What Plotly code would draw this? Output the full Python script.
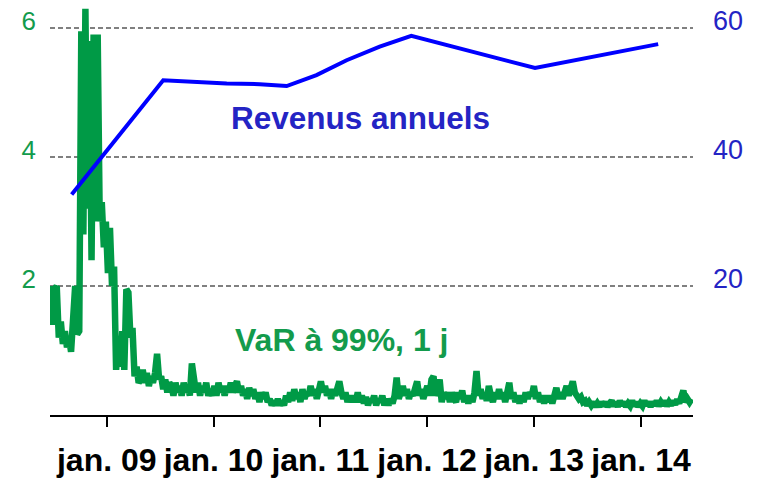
import pandas as pd
import plotly.graph_objects as go

# VaR 99%, 1 day (weekly readings, starting 2008-06-23)
var_start = "2008-06-23"
var_2008 = [2.0, 1.4, 1.95, 2.0, 1.2, 1.45, 1.1, 1.3, 1.05, 1.2, 0.98, 1.7, 2.0, 1.25,
            1.3, 5.95, 2.8, 6.3, 3.2, 5.8, 2.4, 5.9, 3.0, 5.9, 3.0, 3.3, 2.6, 3.0]
var_2009 = [2.2, 2.9, 2.0, 2.3, 0.7, 1.1, 0.75, 1.3, 0.7, 1.95,
            1.9, 1.2, 1.35, 0.6, 0.75, 0.5, 0.55, 0.7, 0.5, 0.65,
            0.45, 0.6, 0.5, 0.65, 0.95, 0.55, 0.6, 0.4, 0.55, 0.35,
            0.5, 0.45, 0.3, 0.5, 0.35, 0.45, 0.3, 0.5, 0.35, 0.45,
            0.3, 0.8, 0.45, 0.35, 0.5, 0.3, 0.45, 0.35, 0.5, 0.3,
            0.4, 0.3]
var_2010 = [0.45, 0.3, 0.5, 0.35, 0.45, 0.3, 0.45, 0.35, 0.5, 0.35,
            0.45, 0.52, 0.35, 0.45, 0.3, 0.4, 0.25, 0.42, 0.3, 0.4,
            0.25, 0.35, 0.2, 0.35, 0.25, 0.35, 0.2, 0.25, 0.15, 0.22,
            0.15, 0.25, 0.15, 0.22, 0.15, 0.3, 0.2, 0.35, 0.22, 0.4,
            0.25, 0.35, 0.2, 0.4, 0.25, 0.35, 0.3, 0.45, 0.3, 0.4,
            0.25, 0.45]
var_2011 = [0.52, 0.35, 0.45, 0.3, 0.4, 0.25, 0.4, 0.3, 0.45, 0.52,
            0.35, 0.25, 0.35, 0.2, 0.3, 0.2, 0.3, 0.2, 0.35, 0.2,
            0.3, 0.18, 0.28, 0.15, 0.25, 0.2, 0.3, 0.15, 0.25, 0.2,
            0.3, 0.15, 0.25, 0.15, 0.25, 0.18, 0.3, 0.58, 0.25, 0.35,
            0.45, 0.3, 0.4, 0.25, 0.35, 0.3, 0.45, 0.52, 0.3, 0.4,
            0.25, 0.35]
var_2012 = [0.45, 0.3, 0.55, 0.6, 0.3, 0.4, 0.55, 0.2, 0.35, 0.25,
            0.35, 0.2, 0.35, 0.25, 0.2, 0.35, 0.25, 0.38, 0.2, 0.3,
            0.18, 0.3, 0.2, 0.35, 0.68, 0.3, 0.4, 0.25, 0.35, 0.22,
            0.45, 0.3, 0.2, 0.35, 0.25, 0.4, 0.25, 0.35, 0.2, 0.35,
            0.5, 0.25, 0.35, 0.2, 0.3, 0.18, 0.3, 0.2, 0.35, 0.25,
            0.35, 0.3]
var_2013 = [0.45, 0.25, 0.35, 0.2, 0.3, 0.18, 0.3, 0.2, 0.3, 0.18,
            0.35, 0.42, 0.25, 0.35, 0.25, 0.4, 0.45, 0.3, 0.45, 0.52,
            0.35, 0.3, 0.25, 0.28, 0.2, 0.22, 0.15, 0.2, 0.15, 0.2,
            0.13, 0.18, 0.13, 0.2, 0.14, 0.2, 0.13, 0.18, 0.22, 0.14,
            0.2, 0.13, 0.22, 0.15, 0.2, 0.13, 0.18, 0.14, 0.22, 0.14,
            0.2, 0.13]
var_2014 = [0.18, 0.14, 0.22, 0.15, 0.2, 0.13, 0.2, 0.15, 0.22, 0.14,
            0.2, 0.15, 0.22, 0.14, 0.2, 0.15, 0.22, 0.16, 0.24, 0.18,
            0.25, 0.38, 0.2, 0.25, 0.2, 0.25]

# Annual revenues (right axis)
rev_dates = ["2008-09-03", "2009-07-13", "2010-02-15", "2010-06-08", "2010-09-08",
             "2010-12-19", "2011-04-01", "2011-07-23", "2011-11-08", "2013-01-04",
             "2014-03-01"]
rev_values = [34.2, 51.9, 51.4, 51.3, 51.0, 52.7, 55.0, 57.1, 58.8, 53.8, 57.5]

tick_dates = ["2009-01-01", "2010-01-01", "2011-01-01", "2012-01-01", "2013-01-01", "2014-01-01"]
tick_labels = ["jan. 09", "jan. 10", "jan. 11", "jan. 12", "jan. 13", "jan. 14"]
left_ticks = [2, 4, 6]
right_ticks = [20, 40, 60]

var_values = var_2008 + var_2009 + var_2010 + var_2011 + var_2012 + var_2013 + var_2014
var_dates = pd.date_range(var_start, periods=len(var_values), freq="7D")

GREEN = "#009A46"
GREEN_TXT = "#139B4C"
BLUE = "#0000FF"
BLUE_TXT = "#2424C4"
FONT = "Liberation Sans, Arial, sans-serif"

fig = go.Figure()
fig.add_trace(go.Scatter(x=var_dates, y=var_values, mode="lines",
                         line=dict(color=GREEN, width=6.5), yaxis="y",
                         showlegend=False, hoverinfo="skip"))
fig.add_trace(go.Scatter(x=pd.to_datetime(rev_dates), y=rev_values, mode="lines",
                         line=dict(color=BLUE, width=4), yaxis="y2",
                         showlegend=False, hoverinfo="skip"))

fig.add_annotation(x="2010-02-24", y=4.61, xref="x", yref="y", text="<b>Revenus annuels</b>",
                   showarrow=False, xanchor="left", yanchor="middle",
                   font=dict(family=FONT, size=31.5, color=BLUE_TXT))
fig.add_annotation(x="2010-03-08", y=1.17, xref="x", yref="y", text="<b>VaR à 99%, 1 j</b>",
                   showarrow=False, xanchor="left", yanchor="middle",
                   font=dict(family=FONT, size=32, color=GREEN_TXT))

fig.update_layout(
    width=765, height=482, autosize=False,
    margin=dict(l=50, r=72, t=5, b=67),
    paper_bgcolor="white", plot_bgcolor="white",
    font=dict(family=FONT),
    xaxis=dict(type="date", range=["2008-06-21", "2014-06-28"],
               tickvals=pd.to_datetime(tick_dates), ticktext=[f"<b>{t}</b>" for t in tick_labels],
               showline=True, linecolor="black", linewidth=2,
               ticks="outside", ticklen=10, tickwidth=2, tickcolor="black",
               showgrid=False, zeroline=False,
               tickfont=dict(family=FONT, size=32, color="black"),
               ticklabelstandoff=6),
    yaxis=dict(range=[0, 6.357], tickvals=left_ticks, ticktext=[str(v) for v in left_ticks],
               showgrid=True, gridcolor="#808080", gridwidth=2, griddash="5px,3px",
               zeroline=False, showline=False, ticks="",
               tickfont=dict(family=FONT, size=26, color=GREEN_TXT),
               ticklabelstandoff=13, ticklabelshift=-7),
    yaxis2=dict(range=[0, 63.57], overlaying="y", side="right", tickvals=right_ticks,
                ticktext=[str(v) for v in right_ticks],
                showgrid=False, zeroline=False, showline=False, ticks="",
                tickfont=dict(family=FONT, size=27, color=BLUE_TXT),
                ticklabelstandoff=19, ticklabelshift=-7),
)

fig.write_html("out.html", config={"displayModeBar": False},
               post_script="document.body.style.margin='0';")
